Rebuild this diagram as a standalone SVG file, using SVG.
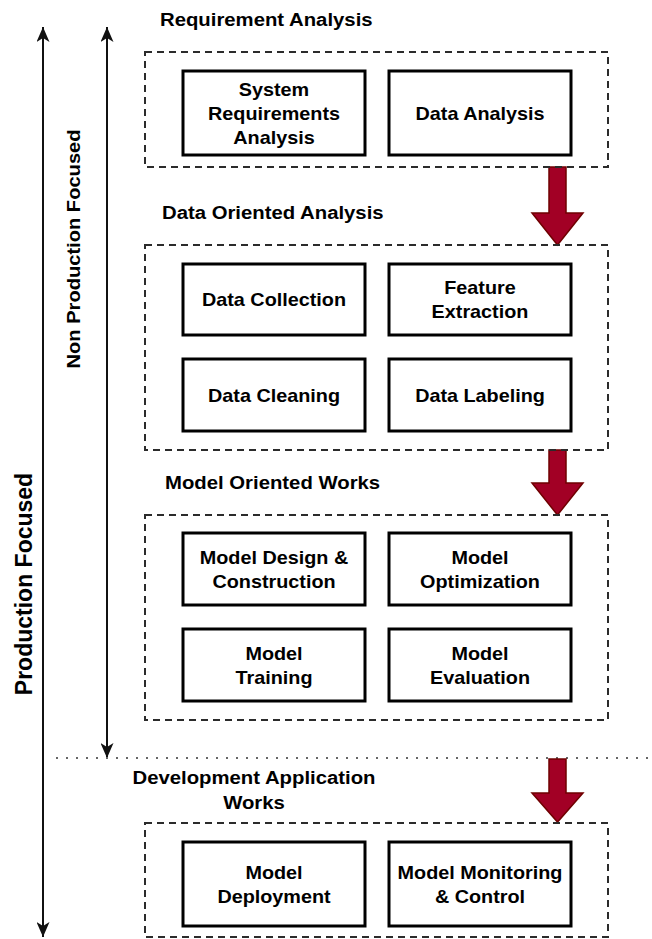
<svg xmlns="http://www.w3.org/2000/svg" width="652" height="939" viewBox="0 0 652 939">
  <style>
    text { font-family: "Liberation Sans", Arial, Helvetica, sans-serif; font-weight: bold; fill: #000; }
    .title { font-size: 19px; }
    .lbl { font-size: 18px; text-anchor: middle; }
    .stage { fill: none; stroke: #2b2b2b; stroke-width: 2; stroke-dasharray: 7 5; }
    .task { fill: #fff; stroke: #000; stroke-width: 3; }
    .flow { fill: #a20025; stroke: #6f0000; stroke-width: 1.5; stroke-linejoin: miter; }
    .axis { stroke: #111; stroke-width: 2; fill: none; }
  </style>
  <defs>
    <marker id="tip" viewBox="0 0 15 13" refX="15" refY="6.5" markerWidth="15" markerHeight="13" markerUnits="userSpaceOnUse" orient="auto-start-reverse">
      <path d="M0,0 L15,6.5 L0,13 L4,6.5 Z" fill="#111"/>
    </marker>
  </defs>
  <rect width="652" height="939" fill="#fff"/>

  <!-- scope axes, divider and stage-to-stage flow arrows -->
  <g id="connectors">
    <line class="axis" x1="43" y1="27" x2="43" y2="937" marker-start="url(#tip)" marker-end="url(#tip)"/>
    <line class="axis" x1="107" y1="27" x2="107" y2="758" marker-start="url(#tip)" marker-end="url(#tip)"/>
    <line x1="56" y1="758" x2="652" y2="758" stroke="#666" stroke-width="2" stroke-dasharray="2 8"/>
    <path class="flow" d="M549,167 H566 V213 H583 L557.5,245 L532,213 H549 Z"/>
    <path class="flow" d="M549,450 H566 V483 H583 L557.5,515 L532,483 H549 Z"/>
    <path class="flow" d="M549,759 H566 V793 H583 L557.5,822 L532,793 H549 Z"/>
  </g>

  <!-- axis labels -->
  <g id="non-production-label">
    <text transform="translate(80,249) rotate(-90) scale(1.15,1)" style="font-size:17.5px;text-anchor:middle">Non Production Focused</text>
  </g>
  <g id="production-label">
    <text transform="translate(32,584) rotate(-90)" style="font-size:23px;text-anchor:middle">Production Focused</text>
  </g>

  <!-- Stage 1 -->
  <g id="requirement-analysis">
    <text class="title" transform="translate(160,26) scale(1.07,1)">Requirement Analysis</text>
    <rect class="stage" x="145" y="52" width="463" height="115"/>
  </g>
  <g id="system-requirements-analysis">
    <rect class="task" x="183" y="71" width="182" height="84"/>
    <text class="lbl" transform="translate(274,95.5) scale(1.1,1)">System</text>
    <text class="lbl" transform="translate(274,119.5) scale(1.1,1)">Requirements</text>
    <text class="lbl" transform="translate(274,143.5) scale(1.1,1)">Analysis</text>
  </g>
  <g id="data-analysis">
    <rect class="task" x="389" y="71" width="182" height="84"/>
    <text class="lbl" transform="translate(480,119.5) scale(1.1,1)">Data Analysis</text>
  </g>

  <!-- Stage 2 -->
  <g id="data-oriented-analysis">
    <text class="title" transform="translate(162,219) scale(1.07,1)">Data Oriented Analysis</text>
    <rect class="stage" x="145" y="245" width="463" height="205"/>
  </g>
  <g id="data-collection">
    <rect class="task" x="183" y="264" width="182" height="71"/>
    <text class="lbl" transform="translate(274,306) scale(1.1,1)">Data Collection</text>
  </g>
  <g id="feature-extraction">
    <rect class="task" x="389" y="264" width="182" height="71"/>
    <text class="lbl" transform="translate(480,294) scale(1.1,1)">Feature</text>
    <text class="lbl" transform="translate(480,318) scale(1.1,1)">Extraction</text>
  </g>
  <g id="data-cleaning">
    <rect class="task" x="183" y="359" width="182" height="72"/>
    <text class="lbl" transform="translate(274,401.5) scale(1.1,1)">Data Cleaning</text>
  </g>
  <g id="data-labeling">
    <rect class="task" x="389" y="359" width="182" height="72"/>
    <text class="lbl" transform="translate(480,401.5) scale(1.1,1)">Data Labeling</text>
  </g>

  <!-- Stage 3 -->
  <g id="model-oriented-works">
    <text class="title" transform="translate(165,489) scale(1.07,1)">Model Oriented Works</text>
    <rect class="stage" x="145" y="515" width="463" height="205"/>
  </g>
  <g id="model-design-construction">
    <rect class="task" x="183" y="533" width="182" height="72"/>
    <text class="lbl" transform="translate(274,563.5) scale(1.1,1)">Model Design &amp;</text>
    <text class="lbl" transform="translate(274,587.5) scale(1.1,1)">Construction</text>
  </g>
  <g id="model-optimization">
    <rect class="task" x="389" y="533" width="182" height="72"/>
    <text class="lbl" transform="translate(480,563.5) scale(1.1,1)">Model</text>
    <text class="lbl" transform="translate(480,587.5) scale(1.1,1)">Optimization</text>
  </g>
  <g id="model-training">
    <rect class="task" x="183" y="629" width="182" height="72"/>
    <text class="lbl" transform="translate(274,659.5) scale(1.1,1)">Model</text>
    <text class="lbl" transform="translate(274,683.5) scale(1.1,1)">Training</text>
  </g>
  <g id="model-evaluation">
    <rect class="task" x="389" y="629" width="182" height="72"/>
    <text class="lbl" transform="translate(480,659.5) scale(1.1,1)">Model</text>
    <text class="lbl" transform="translate(480,683.5) scale(1.1,1)">Evaluation</text>
  </g>

  <!-- Stage 4 -->
  <g id="development-application-works">
    <text class="title" transform="translate(254,784) scale(1.07,1)" text-anchor="middle">Development Application</text>
    <text class="title" transform="translate(254,809) scale(1.07,1)" text-anchor="middle">Works</text>
    <rect class="stage" x="145" y="823" width="463" height="114"/>
  </g>
  <g id="model-deployment">
    <rect class="task" x="183" y="842" width="182" height="84"/>
    <text class="lbl" transform="translate(274,878.5) scale(1.1,1)">Model</text>
    <text class="lbl" transform="translate(274,902.5) scale(1.1,1)">Deployment</text>
  </g>
  <g id="model-monitoring-control">
    <rect class="task" x="389" y="842" width="182" height="84"/>
    <text class="lbl" transform="translate(480,878.5) scale(1.1,1)">Model Monitoring</text>
    <text class="lbl" transform="translate(480,902.5) scale(1.1,1)">&amp; Control</text>
  </g>
</svg>
